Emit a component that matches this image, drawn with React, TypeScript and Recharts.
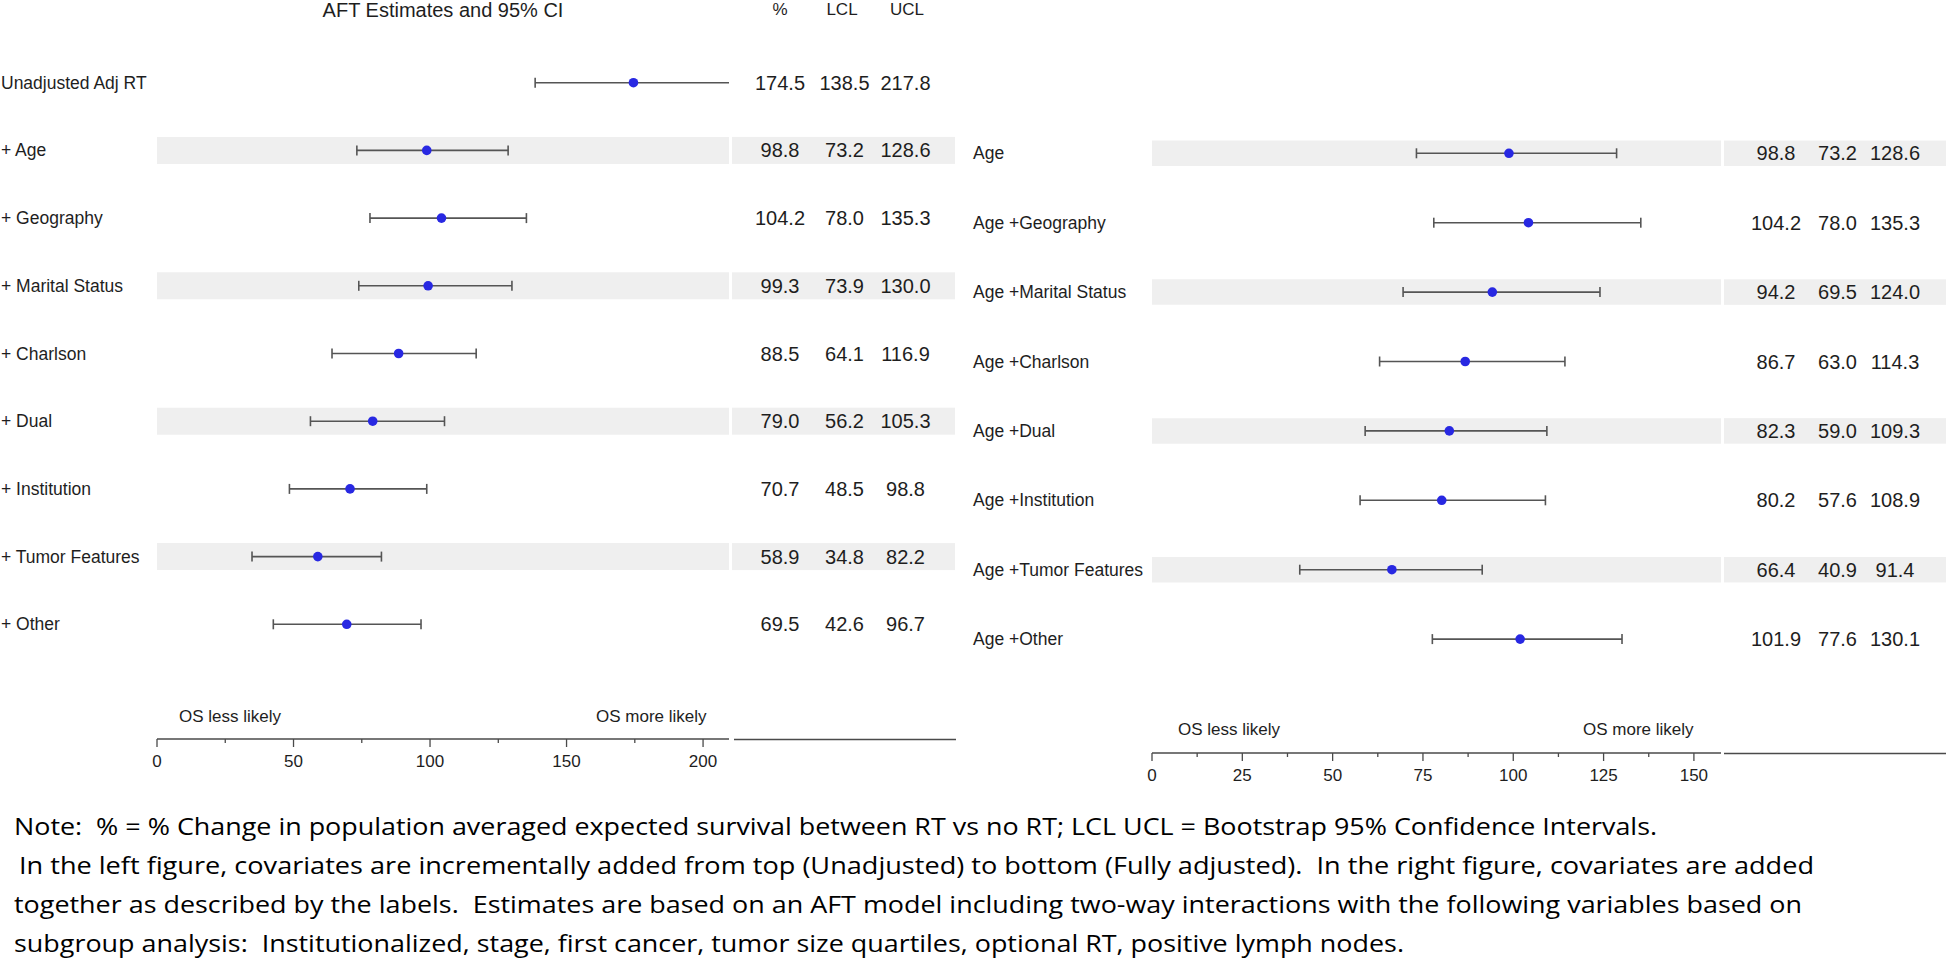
import { ScatterChart, Scatter, XAxis, YAxis, ErrorBar, ReferenceArea } from 'recharts'

// left panel: covariates added one after another
const leftLabels = ['Unadjusted Adj RT', '+ Age', '+ Geography', '+ Marital Status', '+ Charlson', '+ Dual', '+ Institution', '+ Tumor Features', '+ Other']
const leftPct = [174.5, 98.8, 104.2, 99.3, 88.5, 79.0, 70.7, 58.9, 69.5]
const leftLcl = [138.5, 73.2, 78.0, 73.9, 64.1, 56.2, 48.5, 34.8, 42.6]
const leftUcl = [217.8, 128.6, 135.3, 130.0, 116.9, 105.3, 98.8, 82.2, 96.7]
const leftShaded = [1, 3, 5, 7]
const leftTicks = [0, 25, 50, 75, 100, 125, 150, 175, 200]
const leftTickLabels = [0, 50, 100, 150, 200]

// right panel: Age plus one covariate
const rightLabels = ['Age', 'Age +Geography', 'Age +Marital Status', 'Age +Charlson', 'Age +Dual', 'Age +Institution', 'Age +Tumor Features', 'Age +Other']
const rightPct = [98.8, 104.2, 94.2, 86.7, 82.3, 80.2, 66.4, 101.9]
const rightLcl = [73.2, 78.0, 69.5, 63.0, 59.0, 57.6, 40.9, 77.6]
const rightUcl = [128.6, 135.3, 124.0, 114.3, 109.3, 108.9, 91.4, 130.1]
const rightShaded = [0, 2, 4, 6]
const rightTicks = [0, 12.5, 25, 37.5, 50, 62.5, 75, 87.5, 100, 112.5, 125, 137.5, 150]
const rightTickLabels = [0, 25, 50, 75, 100, 125, 150]

const headerCols = ['%', 'LCL', 'UCL']
const noteLines = [
  'Note:  % = % Change in population averaged expected survival between RT vs no RT; LCL UCL = Bootstrap 95% Confidence Intervals.',
  'In the left figure, covariates are incrementally added from top (Unadjusted) to bottom (Fully adjusted).  In the right figure, covariates are added',
  'together as described by the labels.  Estimates are based on an AFT model including two-way interactions with the following variables based on',
  'subgroup analysis:  Institutionalized, stage, first cancer, tumor size quartiles, optional RT, positive lymph nodes.',
]

const FONT = '"Liberation Sans", Arial, sans-serif'
const DOT = '#2828e2'
const BAR = '#555555'
const BAND = '#efefef'
const AXIS = '#4a4a4a'
const TXT = '#1e1e1e'

function ForestPanel({ cfg }: { cfg: any }) {
  const data = cfg.labels.map((_: string, i: number) => ({
    row: i,
    est: cfg.pct[i],
    err: [cfg.pct[i] - cfg.lcl[i], cfg.ucl[i] - cfg.pct[i]],
  }))
  const plotH = cfg.axisY
  const yDomain = [-cfg.row0 / cfg.rowStep, (plotH - cfg.row0) / cfg.rowStep]
  const rows = cfg.labels.map((_: string, i: number) => i)

  const RowTick = (p: any) => {
    const i = p.payload.value
    const y = p.y
    return (
      <g>
        {cfg.shaded.includes(i) && (
          <rect x={cfg.tableX0} y={y - cfg.bandH / 2} width={cfg.tableX1 - cfg.tableX0} height={cfg.bandH} fill={BAND} />
        )}
        <text x={cfg.labelX} y={y} dominantBaseline="central" fontSize={17.5} fill={TXT}>{cfg.labels[i]}</text>
        {[cfg.pct, cfg.lcl, cfg.ucl].map((arr: number[], k: number) => (
          <text key={k} x={cfg.cols[k]} y={y} textAnchor="middle" dominantBaseline="central" fontSize={20} fill={TXT}>
            {arr[i].toFixed(1)}
          </text>
        ))}
      </g>
    )
  }

  const AxisTick = (p: any) => {
    const v = p.payload.value
    const major = cfg.tickLabels.includes(v)
    return (
      <g>
        <line x1={p.x} x2={p.x} y1={p.y} y2={p.y + (major ? 8 : 4)} stroke={AXIS} strokeWidth={1.3} />
        {major && (
          <text x={p.x} y={p.y + 28} textAnchor="middle" fontSize={17} fill={TXT}>{v}</text>
        )}
      </g>
    )
  }

  return (
    <div className={cfg.cls} style={{ position: 'relative' }}>
      {/* error bars are not clipped by recharts, so clip them to the plot area here */}
      <svg width={0} height={0} style={{ position: 'absolute' }}>
        <defs>
          <clipPath id={cfg.cls + '-clip'} clipPathUnits="userSpaceOnUse">
            <rect x={cfg.plotLeft} y={0} width={cfg.plotRight - cfg.plotLeft} height={plotH} />
          </clipPath>
        </defs>
      </svg>
      <style>{`.${cfg.cls} .recharts-errorBars, .${cfg.cls} .recharts-errorBar { clip-path: url(#${cfg.cls}-clip); }`}</style>
      <ScatterChart
        width={cfg.width}
        height={plotH + 45}
        margin={{ top: 0, right: cfg.width - cfg.plotRight, bottom: 0, left: 0 }}
      >
        <XAxis
          type="number"
          dataKey="est"
          domain={[0, cfg.xMax]}
          allowDataOverflow
          ticks={cfg.ticks}
          interval={0}
          tickSize={0}
          tickMargin={0}
          tickLine={false}
          tick={AxisTick}
          axisLine={{ stroke: AXIS, strokeWidth: 1.3 }}
          height={45}
        />
        <YAxis
          type="number"
          dataKey="row"
          domain={yDomain}
          allowDataOverflow
          reversed
          ticks={rows}
          interval={0}
          tickSize={0}
          tickLine={false}
          axisLine={false}
          tick={RowTick}
          width={cfg.plotLeft}
        />
        {cfg.shaded.map((r: number) => (
          <ReferenceArea key={r} x1={0} x2={cfg.xMax} y1={r - cfg.bandH / 2 / cfg.rowStep} y2={r + cfg.bandH / 2 / cfg.rowStep} fill={BAND} fillOpacity={1} stroke="none" />
        ))}
        <Scatter
          data={data}
          isAnimationActive={false}
          shape={(p: any) => <circle cx={p.cx} cy={p.cy} r={4.8} fill={DOT} />}
        >
          <ErrorBar dataKey="err" direction="x" width={5} stroke={BAR} strokeWidth={1.6} />
        </Scatter>
      </ScatterChart>
    </div>
  )
}

const leftCfg = {
  cls: 'forest-left',
  labels: leftLabels, pct: leftPct, lcl: leftLcl, ucl: leftUcl, shaded: leftShaded,
  ticks: leftTicks, tickLabels: leftTickLabels,
  width: 960, plotLeft: 157, plotRight: 729, xMax: 209.5,
  axisY: 739, row0: 82.7, rowStep: 67.7, bandH: 27,
  labelX: 1, cols: [780, 844.5, 905.5], tableX0: 732, tableX1: 955,
}

const rightCfg = {
  cls: 'forest-right',
  labels: rightLabels, pct: rightPct, lcl: rightLcl, ucl: rightUcl, shaded: rightShaded,
  ticks: rightTicks, tickLabels: rightTickLabels,
  width: 986, plotLeft: 192, plotRight: 761, xMax: 157.5,
  axisY: 753, row0: 153.3, rowStep: 69.4, bandH: 25.5,
  labelX: 13, cols: [816, 877.5, 935], tableX0: 764, tableX1: 986,
}

export default function App() {
  return (
    <div style={{ position: 'absolute', left: 0, top: 0, width: 1946, height: 970, background: '#fff', overflow: 'hidden', fontFamily: FONT }}>
      <div style={{ position: 'absolute', left: 0, top: 0 }}>
        <ForestPanel cfg={leftCfg} />
      </div>
      <div style={{ position: 'absolute', left: 960, top: 0 }}>
        <ForestPanel cfg={rightCfg} />
      </div>
      <svg width={1946} height={970} style={{ position: 'absolute', left: 0, top: 0, pointerEvents: 'none' }}>
        <text x={443} y={10} textAnchor="middle" dominantBaseline="central" fontSize={20} fill={TXT}>AFT Estimates and 95% CI</text>
        {headerCols.map((h, k) => (
          <text key={h} x={[780, 842, 907][k]} y={9} textAnchor="middle" dominantBaseline="central" fontSize={17} fill={TXT}>{h}</text>
        ))}
        <text x={179} y={716} dominantBaseline="central" fontSize={17} fill={TXT}>OS less likely</text>
        <text x={596} y={716} dominantBaseline="central" fontSize={17} fill={TXT}>OS more likely</text>
        <text x={1178} y={729} dominantBaseline="central" fontSize={17} fill={TXT}>OS less likely</text>
        <text x={1583} y={729} dominantBaseline="central" fontSize={17} fill={TXT}>OS more likely</text>
        <line x1={734} x2={956} y1={739.5} y2={739.5} stroke={AXIS} strokeWidth={1.3} />
        <line x1={1724} x2={1946} y1={753.5} y2={753.5} stroke={AXIS} strokeWidth={1.6} />
        {noteLines.map((t, i) => (
          <text
            key={i}
            x={i === 1 ? 19 : 14}
            y={[825, 864, 903, 942][i]}
            dominantBaseline="central"
            fontSize={24}
            fontFamily='"Open Sans", sans-serif'
            fill="#000"
            textLength={[1643, 1795, 1788, 1390][i]}
            lengthAdjust="spacingAndGlyphs"
            style={{ whiteSpace: 'pre' }}
          >
            {t}
          </text>
        ))}
      </svg>
    </div>
  )
}
